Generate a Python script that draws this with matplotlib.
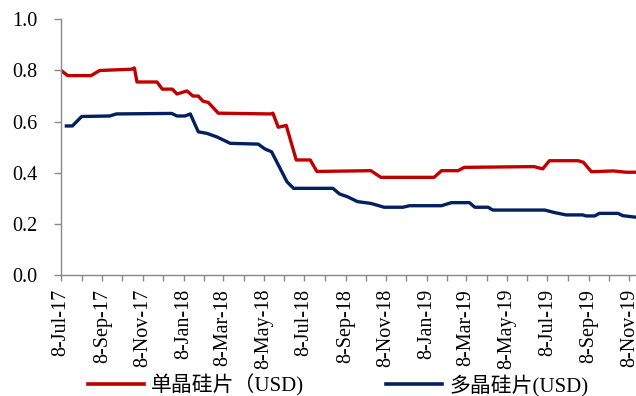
import matplotlib
matplotlib.use("Agg")
import matplotlib.pyplot as plt
import matplotlib.dates as mdates
import pandas as pd
from matplotlib.lines import Line2D
from matplotlib.ticker import FuncFormatter, MultipleLocator

RED = "#C00000"
NAVY = "#002060"
AXIS = "#898989"

# Monocrystalline wafer price (USD), turning points of the weekly series
mono_dates = pd.to_datetime([
    "2017-07-08", "2017-07-18", "2017-08-22", "2017-09-04", "2017-10-22",
    "2017-10-26", "2017-10-30", "2017-11-29", "2017-12-07", "2017-12-22",
    "2017-12-29", "2018-01-13", "2018-01-22", "2018-01-30", "2018-02-06",
    "2018-02-14", "2018-03-01", "2018-05-19", "2018-05-22", "2018-05-30",
    "2018-06-11", "2018-06-26", "2018-07-17", "2018-07-27", "2018-10-16",
    "2018-10-31", "2019-01-19", "2019-01-30", "2019-02-24", "2019-03-05",
    "2019-06-18", "2019-07-01", "2019-07-11", "2019-08-23", "2019-08-31",
    "2019-09-12", "2019-10-15", "2019-11-03", "2019-11-18",
])
mono_price = [
    0.800, 0.780, 0.780, 0.800, 0.805,
    0.810, 0.755, 0.755, 0.727, 0.727,
    0.708, 0.720, 0.700, 0.700, 0.680,
    0.675, 0.633, 0.630, 0.633, 0.578,
    0.585, 0.450, 0.450, 0.405, 0.408,
    0.382, 0.382, 0.408, 0.408, 0.421,
    0.424, 0.415, 0.447, 0.447, 0.441,
    0.404, 0.407, 0.402, 0.402,
]

# Multicrystalline wafer price (USD)
multi_dates = pd.to_datetime([
    "2017-07-16", "2017-07-25", "2017-08-08", "2017-09-19", "2017-09-29",
    "2017-12-21", "2017-12-29", "2018-01-10", "2018-01-18", "2018-01-30",
    "2018-02-12", "2018-02-27", "2018-03-19", "2018-04-30", "2018-05-10",
    "2018-05-20", "2018-06-12", "2018-06-22", "2018-08-20", "2018-08-30",
    "2018-09-11", "2018-09-26", "2018-10-16", "2018-11-05", "2018-12-03",
    "2018-12-13", "2019-01-30", "2019-02-14", "2019-03-13", "2019-03-21",
    "2019-04-10", "2019-04-17", "2019-07-04", "2019-07-19", "2019-08-05",
    "2019-08-30", "2019-09-04", "2019-09-17", "2019-09-24", "2019-10-22",
    "2019-10-29", "2019-11-18",
])
multi_price = [
    0.583, 0.583, 0.620, 0.622, 0.630,
    0.632, 0.622, 0.622, 0.630, 0.560,
    0.554, 0.540, 0.515, 0.512, 0.493,
    0.482, 0.365, 0.339, 0.339, 0.317,
    0.306, 0.287, 0.280, 0.265, 0.265,
    0.271, 0.271, 0.283, 0.283, 0.265,
    0.265, 0.254, 0.254, 0.244, 0.235,
    0.235, 0.231, 0.231, 0.241, 0.241,
    0.232, 0.226,
]

LABELS = ["单晶硅片（USD)", "多晶硅片(USD)"]
TICK_FONT = ["Liberation Serif", "DejaVu Serif"]
LEGEND_FONT = ["Liberation Serif", "Noto Sans CJK SC"]

fig = plt.figure(figsize=(6.36, 3.96), dpi=100)
ax = fig.add_axes([0.096, 0.3056, 0.904, 0.6455])

ax.plot(mono_dates, mono_price, color=RED, lw=2.4, solid_joinstyle="round")
ax.plot(multi_dates, multi_price, color=NAVY, lw=2.4, solid_joinstyle="round")

ax.set_xlim(pd.Timestamp("2017-07-08"), pd.Timestamp("2019-11-18"))
ax.set_ylim(0, 1.0)

ax.yaxis.set_major_locator(MultipleLocator(0.2))
ax.yaxis.set_major_formatter(FuncFormatter(lambda v, _: f"{v:.1f}"))

ax.xaxis.set_major_locator(mdates.MonthLocator(bymonth=(1, 3, 5, 7, 9, 11), bymonthday=8))
ax.xaxis.set_minor_locator(mdates.MonthLocator(bymonth=(2, 4, 6, 8, 10, 12), bymonthday=8))
ax.xaxis.set_major_formatter(
    FuncFormatter(lambda v, _: (lambda d: f"{d.day}-{d:%b-%y}")(mdates.num2date(v)))
)

for side in ("top", "right"):
    ax.spines[side].set_visible(False)
for side in ("left", "bottom"):
    ax.spines[side].set_color(AXIS)
    ax.spines[side].set_linewidth(1.0)

ax.tick_params(axis="y", direction="out", length=5, width=1, color=AXIS,
               pad=12, labelsize=14.5)
ax.tick_params(axis="x", which="both", direction="out", length=4, width=1,
               color=AXIS, pad=6, labelsize=14.5, labelrotation=90)
for lab in ax.get_xticklabels() + ax.get_yticklabels():
    lab.set_family(TICK_FONT)

# two legend entries placed separately below the date labels
for label, color, x0 in [(LABELS[0], RED, 0.138), (LABELS[1], NAVY, 0.607)]:
    fig.legend(handles=[Line2D([], [], color=color, lw=2.6)], labels=[label],
               loc="center left", bbox_to_anchor=(x0, 0.027), frameon=False,
               borderpad=0, borderaxespad=0, handlelength=2.7, handletextpad=0.35,
               prop={"family": LEGEND_FONT, "size": 15})

fig.savefig("out.png", dpi=100)
